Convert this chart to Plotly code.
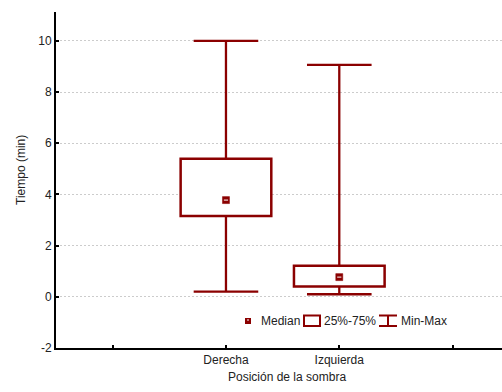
import plotly.graph_objects as go

categories = ["Derecha", "Izquierda"]
positions = [1, 2]
mins = [0.2, 0.1]
q1s = [3.16, 0.40]
medians = [3.78, 0.77]
q3s = [5.40, 1.21]
maxs = [10.0, 9.06]
y_ticks = [-2, 0, 2, 4, 6, 8, 10]

RED = "#8B0000"
FONT = "Liberation Sans, Arial, sans-serif"
CAP = 0.285

fig = go.Figure()

# boxes (25%-75%)
fig.add_trace(go.Bar(
    x=positions, y=[q3 - q1 for q1, q3 in zip(q1s, q3s)], base=q1s, width=0.8,
    marker=dict(color="white", line=dict(color=RED, width=2.5)),
    showlegend=False, hoverinfo="skip"))

# whiskers and caps
wx, wy = [], []
for p, lo, q1, q3, hi in zip(positions, mins, q1s, q3s, maxs):
    wx += [p, p, None, p, p, None, p - CAP, p + CAP, None, p - CAP, p + CAP, None]
    wy += [q3, hi, None, q1, lo, None, hi, hi, None, lo, lo, None]
fig.add_trace(go.Scatter(x=wx, y=wy, mode="lines", line=dict(color=RED, width=2.3),
                         showlegend=False, hoverinfo="skip"))

# medians
fig.add_trace(go.Scatter(x=positions, y=medians, mode="markers",
                         marker=dict(symbol="square", size=7, color=RED,
                                     line=dict(color=RED, width=0.5)),
                         showlegend=False))
fig.add_trace(go.Scatter(x=positions, y=medians, mode="markers",
                         marker=dict(symbol="line-ew", size=3,
                                     line=dict(color="white", width=1)),
                         showlegend=False, hoverinfo="skip"))

# pixel helpers for legend / titles
L, R, T, B = 56, 502, 12, 348
def px(x):
    return (x - L) / (R - L)
def py(y):
    return (B - y) / (B - T)

shapes = []
shapes.append(dict(type="rect", xref="paper", yref="paper", x0=px(245), x1=px(251),
                   y0=py(324), y1=py(318), fillcolor=RED, line=dict(color=RED, width=0)))
shapes.append(dict(type="line", xref="paper", yref="paper", x0=px(247), x1=px(249),
                   y0=py(320), y1=py(320), line=dict(color="white", width=1)))
shapes.append(dict(type="rect", xref="paper", yref="paper", x0=px(304), x1=px(320),
                   y0=py(326), y1=py(315.5), fillcolor="white", line=dict(color=RED, width=2)))
shapes.append(dict(type="line", xref="paper", yref="paper", x0=px(379), x1=px(397),
                   y0=py(315.5), y1=py(315.5), line=dict(color=RED, width=2)))
shapes.append(dict(type="line", xref="paper", yref="paper", x0=px(379), x1=px(397),
                   y0=py(326), y1=py(326), line=dict(color=RED, width=2)))
shapes.append(dict(type="line", xref="paper", yref="paper", x0=px(388), x1=px(388),
                   y0=py(315.5), y1=py(326), line=dict(color=RED, width=2)))

TXT = "#222222"
annotations = []
for label, xpos in [("Median", 261), ("25%-75%", 324), ("Min-Max", 401)]:
    annotations.append(dict(text=label, xref="paper", yref="paper", x=px(xpos), y=py(321),
                            xanchor="left", yanchor="middle", showarrow=False,
                            font=dict(family=FONT, size=12, color=TXT), xshift=-2))
# axis titles
annotations.append(dict(text="Posición de la sombra", xref="paper", yref="paper",
                        x=px(287), y=py(377), xanchor="center", yanchor="middle",
                        showarrow=False, font=dict(family=FONT, size=12, color=TXT)))
annotations.append(dict(text="Tiempo (min)", xref="paper", yref="paper",
                        x=px(21), y=py(170), xanchor="center", yanchor="middle",
                        textangle=-90, showarrow=False,
                        font=dict(family=FONT, size=12, color=TXT)))

fig.update_layout(
    width=502, height=392,
    margin=dict(l=L, r=0, t=T, b=392 - B),
    paper_bgcolor="white", plot_bgcolor="white",
    font=dict(family=FONT, size=12, color=TXT),
    shapes=shapes, annotations=annotations,
    showlegend=False,
    xaxis=dict(range=[-0.5, 3.436], tickmode="array", tickvals=[0, 1, 2, 3],
               ticktext=["", categories[0], categories[1], ""],
               ticks="inside", ticklen=3, tickwidth=2, tickcolor="black",
               showline=True, linecolor="black", linewidth=2, showgrid=False,
               zeroline=False, automargin=False),
    yaxis=dict(range=[-2, 11.13], tickmode="array", tickvals=y_ticks,
               ticktext=[str(v) for v in y_ticks],
               ticks="inside", ticklen=3, tickwidth=2, tickcolor="black",
               showline=True, linecolor="black", linewidth=2,
               showgrid=True, gridcolor="#cccccc", griddash="2px,2px", gridwidth=1,
               zeroline=False, automargin=False),
)

fig.write_html("out.html", config={"displayModeBar": False},
               post_script="document.body.style.margin='0';")
